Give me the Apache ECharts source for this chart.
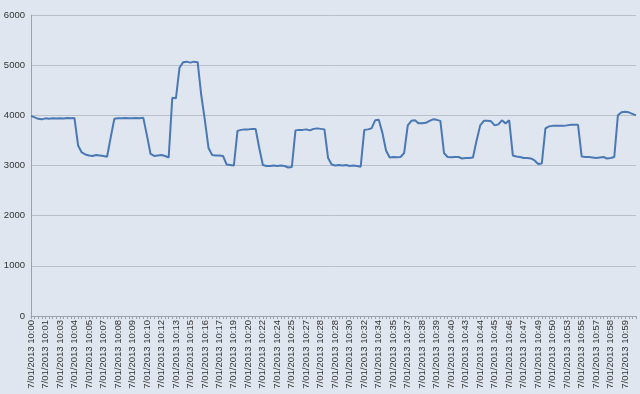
<!DOCTYPE html>
<html><head><meta charset="utf-8">
<script src="https://cdn.jsdelivr.net/npm/echarts@6/dist/echarts.min.js"></script>
<style>html,body{margin:0;padding:0;background:#dfe6ef}#c{width:640px;height:394px}</style>
</head><body><div id="c"></div>
<script>
const tickLabels = ["10:00","10:01","10:03","10:04","10:05","10:07","10:08","10:09","10:10","10:12","10:13","10:15","10:16","10:17","10:19","10:20","10:22","10:24","10:25","10:27","10:28","10:28","10:30","10:32","10:34","10:35","10:37","10:38","10:39","10:40","10:43","10:44","10:45","10:46","10:47","10:49","10:50","10:53","10:55","10:57","10:58","10:59"];
const datePrefix = "7/01/2013 ";
const pointsPerLabel = 4;
const values = [
3990,3960,3930,3920,3940,3930,3940,3935,3940,3935,3945,3940,3945,3400,3260,3220,3200,3190,3210,3200,
3190,3175,3560,3930,3940,3940,3945,3940,3940,3945,3940,3950,3600,3230,3190,3200,3210,3190,3160,4350,
4340,4950,5060,5070,5050,5070,5060,4400,3900,3350,3210,3200,3200,3190,3020,3010,3000,3690,3710,3720,
3720,3730,3730,3350,3010,2990,2990,3000,2990,3000,2990,2960,2970,3700,3710,3710,3720,3700,3730,3740,
3730,3720,3150,3020,3000,3010,3000,3010,2990,3000,2990,2975,3710,3720,3740,3900,3910,3650,3300,3160,
3170,3165,3170,3250,3800,3890,3900,3840,3840,3850,3890,3920,3910,3890,3250,3170,3165,3170,3170,3140,
3150,3150,3160,3500,3800,3890,3890,3880,3800,3820,3900,3840,3900,3200,3180,3170,3150,3150,3140,3100,
3030,3040,3740,3780,3790,3790,3790,3790,3800,3810,3810,3810,3180,3170,3170,3160,3150,3160,3170,3140,
3150,3170,4000,4060,4070,4060,4030,4000];
const categories = values.map((v, i) => i);

const chart = echarts.init(document.getElementById('c'));
chart.setOption({
  backgroundColor: '#dfe6ef',
  animation: false,
  grid: {left: 31, right: 4, top: 15, bottom: 78, containLabel: false},
  xAxis: {
    type: 'category',
    data: categories,
    boundaryGap: false,
    axisLine: {lineStyle: {color: '#9aa3ad', width: 1}},
    axisTick: {show: true, interval: 0, length: 3, lineStyle: {color: '#9aa3ad'}},
    axisLabel: {
      interval: pointsPerLabel - 1,
      rotate: 90,
      fontSize: 9.5,
      fontFamily: 'Liberation Sans, Arial, sans-serif',
      color: '#333',
      margin: 4,
      formatter: (v, i) => datePrefix + tickLabels[Math.floor(i / pointsPerLabel)]
    },
    splitLine: {show: false}
  },
  yAxis: {
    type: 'value',
    min: 0, max: 6000, interval: 1000,
    axisLine: {show: true, lineStyle: {color: '#9aa3ad'}},
    axisTick: {show: false},
    axisLabel: {fontSize: 9.5, fontFamily: 'Liberation Sans, Arial, sans-serif', color: '#333', margin: 6,
      formatter: v => String(v)},
    splitLine: {lineStyle: {color: '#b8c0ca', width: 1}}
  },
  series: [{
    type: 'line',
    data: values,
    showSymbol: false,
    symbol: 'none',
    lineStyle: {color: '#4a78b5', width: 2}
  }]
});
</script></body></html>
